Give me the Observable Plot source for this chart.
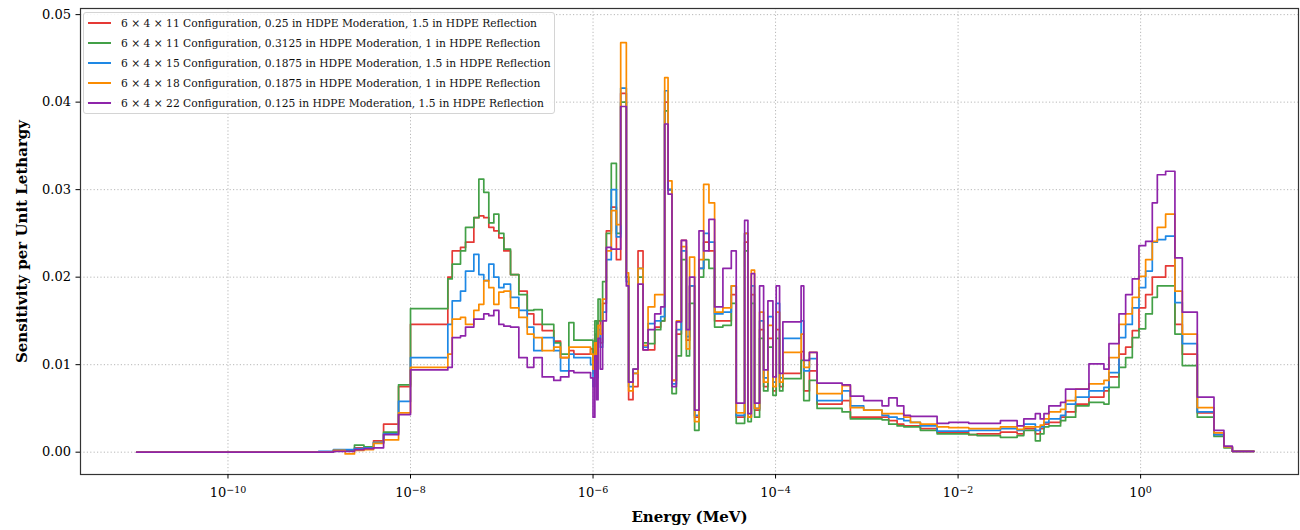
<!DOCTYPE html>
<html><head><meta charset="utf-8">
<script src="https://cdn.jsdelivr.net/npm/d3@7"></script>
<script src="https://cdn.jsdelivr.net/npm/@observablehq/plot@0.6"></script>
<style>
body{margin:0;background:#fff;}
#wrap{position:relative;width:1300px;height:530px;font-family:"DejaVu Serif",serif;}
#legend{position:absolute;left:83px;top:12px;width:472px;height:102px;border:1px solid #d4d4d4;border-radius:3px;background:rgba(255,255,255,0.85);box-sizing:border-box;}
.row{position:absolute;left:4px;height:20px;display:flex;align-items:center;font-size:10.7px;color:#111;white-space:nowrap}
.sw{width:23px;height:0;border-top:2px solid;margin-right:10px}
svg g[aria-label="y-axis label"] text, svg g[aria-label="x-axis label"] text{font-weight:bold;font-size:15px;}
</style></head>
<body>
<div id="wrap"><div id="chart"></div><div id="legend"></div></div>
<script>
// log10 of lower bin edge energy (MeV)
const logE = [
 -11.0, -9.006, -8.844, -8.716, -8.614, -8.51, -8.405, -8.295, -8.131, -8.0,
 -7.591, -7.543, -7.452, -7.397, -7.306, -7.251, -7.197, -7.142, -7.087, -7.032,
 -6.977, -6.904, -6.813, -6.721, -6.649, -6.557, -6.430, -6.356, -6.265, -6.210,
 -6.027, -6.000, -5.980, -5.960, -5.945, -5.920, -5.895, -5.854, -5.800, -5.744,
 -5.697, -5.635, -5.610, -5.562, -5.507, -5.452, -5.397, -5.324, -5.258, -5.215,
 -5.178, -5.135, -5.087, -5.032, -4.977, -4.942, -4.887, -4.839, -4.788, -4.730,
 -4.668, -4.577, -4.485, -4.431, -4.339, -4.303, -4.266, -4.230, -4.175, -4.131,
 -4.084, -4.029, -3.993, -3.956, -3.920, -3.720, -3.691, -3.629, -3.545, -3.271,
 -3.180, -3.034, -2.833, -2.760, -2.668, -2.595, -2.522, -2.413, -2.230, -2.102,
 -1.883, -1.792, -1.536, -1.353, -1.280, -1.153, -1.100, -1.059, -1.005, -0.877,
 -0.822, -0.712, -0.566, -0.402, -0.347, -0.237, -0.164, -0.091, -0.018, 0.055,
 0.128, 0.183, 0.274, 0.376, 0.457, 0.621, 0.804, 0.913, 1.005
];
const logEnd = 1.242;

const seriesNames = [
 "6 × 4 × 11 Configuration, 0.25 in HDPE Moderation, 1.5 in HDPE Reflection",
 "6 × 4 × 11 Configuration, 0.3125 in HDPE Moderation, 1 in HDPE Reflection",
 "6 × 4 × 15 Configuration, 0.1875 in HDPE Moderation, 1.5 in HDPE Reflection",
 "6 × 4 × 18 Configuration, 0.1875 in HDPE Moderation, 1 in HDPE Reflection",
 "6 × 4 × 22 Configuration, 0.125 in HDPE Moderation, 1.5 in HDPE Reflection"
];
const seriesColors = ["#e53935", "#43a047", "#1e88e5", "#fb8c00", "#8e24aa"];

const red = [
 0, 0.00005, .0002, .0002, .0005, .0005, .0013, .0032, .0075, .0146,
 .0200, .0230, .0234, .0240, .0268, .0270, .0268, .0257, .0253, .0245,
 .0230, .0203, .0184, .0158, .0146, .0139, .0127, .0108, .0116, .0112,
 .0118, .0090, .0135, .0100, .0150, .0125, .0170, .0253, .0280, .0220,
 .0410, .0200, .0060, .0075, .0230, .0117, .0117, .0143, .0150, .0400,
 .0300, .0082, .0135, .0242, .0128, .0190, .0040, .0210, .0240, .0230,
 .0150, .0150, .0180, .0040, .0240, .0040, .0180, .0048, .0140, .0075,
 .0130, .0070, .0140, .0075, .0090, .0115, .0070, .0093, .0055, .0059,
 .0040, .0040, .0040, .0036, .0032, .0030, .0030, .0027, .0023, .0022,
 .0020, .0021, .0023, .0021, .0027, .0021, .0027, .0032, .0034, .0040,
 .0046, .0055, .0063, .0070, .0086, .0112, .0120, .0139, .0165, .0180,
 .0200, .0200, .0213, .0146, .0112, .0045, .0020, .0006, .0001
];
const green = [
 0, 0, .0002, .0002, .0008, .0006, .0011, .0023, .0077, .0164,
 .0198, .0215, .0230, .0257, .0268, .0312, .0297, .0262, .0272, .0250,
 .0232, .0203, .0180, .0162, .0163, .0146, .0125, .0112, .0148, .0128,
 .0128, .0105, .0150, .0115, .0175, .0150, .0195, .0250, .0330, .0250,
 .0400, .0200, .0080, .0095, .0200, .0125, .0124, .0140, .0150, .0390,
 .0300, .0067, .0110, .0220, .0110, .0170, .0025, .0200, .0220, .0210,
 .0143, .0145, .0170, .0033, .0230, .0035, .0170, .0040, .0130, .0070,
 .0120, .0065, .0130, .0070, .0084, .0105, .0059, .0082, .0050, .0046,
 .0038, .0038, .0037, .0032, .0030, .0029, .0029, .0025, .0021, .0021,
 .0020, .0019, .0017, .0019, .0025, .0013, .0021, .0029, .0030, .0036,
 .0040, .0053, .0057, .0055, .0074, .0097, .0108, .0131, .0141, .0158,
 .0177, .0190, .0190, .0135, .0099, .0040, .0018, .0005, .0001
];
const blue = [
 0, .0001, .0003, .0003, .0004, .0005, .0011, .0021, .0058, .0108,
 .0146, .0173, .0184, .0207, .0226, .0203, .0196, .0215, .0200, .0188,
 .0192, .0177, .0162, .0143, .0116, .0131, .0116, .0093, .0112, .0108,
 .0100, .0075, .0120, .0085, .0140, .0120, .0160, .0220, .0300, .0246,
 .0416, .0195, .0075, .0090, .0210, .0120, .0147, .0150, .0155, .0413,
 .0300, .0078, .0140, .0230, .0132, .0190, .0042, .0210, .0250, .0240,
 .0158, .0160, .0190, .0042, .0250, .0040, .0190, .0050, .0150, .0085,
 .0155, .0080, .0170, .0085, .0130, .0150, .0093, .0107, .0059, .0070,
 .0053, .0048, .0042, .0040, .0038, .0036, .0034, .0030, .0024, .0024,
 .0025, .0025, .0027, .0025, .0032, .0025, .0029, .0034, .0038, .0042,
 .0055, .0063, .0070, .0074, .0091, .0131, .0146, .0165, .0188, .0207,
 .0240, .0243, .0247, .0171, .0124, .0046, .0020, .0006, .0001
];
const orange = [
 0, 0, .0002, -.0002, .0002, .0003, .0010, .0014, .0045, .0097,
 .0112, .0152, .0154, .0146, .0162, .0169, .0196, .0188, .0169, .0183,
 .0184, .0165, .0154, .0135, .0131, .0116, .0120, .0108, .0120, .0120,
 .0112, .0095, .0125, .0105, .0145, .0135, .0175, .0230, .0276, .0260,
 .0468, .0205, .0070, .0090, .0210, .0122, .0166, .0180, .0180, .0428,
 .0310, .0082, .0150, .0235, .0118, .0223, .0035, .0220, .0306, .0285,
 .0160, .0165, .0190, .0045, .0250, .0040, .0208, .0050, .0160, .0080,
 .0145, .0075, .0160, .0080, .0114, .0135, .0097, .0114, .0067, .0076,
 .0051, .0048, .0044, .0044, .0044, .0040, .0034, .0032, .0029, .0028,
 .0027, .0027, .0029, .0026, .0029, .0029, .0031, .0038, .0046, .0049,
 .0059, .0072, .0078, .0082, .0108, .0146, .0158, .0177, .0201, .0220,
 .0241, .0257, .0272, .0184, .0135, .0051, .0022, .0006, .0001
];
const purple = [
 0, 0, .0001, .0001, .0003, .0004, .0005, .0020, .0043, .0094,
 .0097, .0131, .0133, .0143, .0152, .0152, .0158, .0156, .0162, .0146,
 .0144, .0143, .0108, .0097, .0108, .0086, .0082, .0086, .0093, .0091,
 .0085, .0040, .0110, .0060, .0130, .0095, .0150, .0234, .0232, .0232,
 .0395, .0190, .0080, .0095, .0192, .0117, .0140, .0158, .0166, .0375,
 .0295, .0075, .0149, .0242, .0140, .0200, .0048, .0253, .0230, .0266,
 .0166, .0210, .0230, .0056, .0265, .0044, .0204, .0056, .0190, .0094,
 .0173, .0086, .0190, .0090, .0149, .0190, .0105, .0114, .0079, .0077,
 .0064, .0059, .0053, .0062, .0053, .0042, .0041, .0041, .0033, .0034,
 .0033, .0033, .0036, .0030, .0038, .0044, .0038, .0044, .0053, .0057,
 .0072, .0072, .0101, .0095, .0124, .0158, .0180, .0198, .0236, .0241,
 .0285, .0317, .0321, .0222, .0160, .0063, .0025, .0007, .0001
];
const seriesValues = [red, green, blue, orange, purple];

const xTicks = [1e-10, 1e-8, 1e-6, 1e-4, 1e-2, 1e0];
const yTicks = [0, 0.01, 0.02, 0.03, 0.04, 0.05];

const data = [];
seriesValues.forEach((vals, k) => {
  vals.forEach((v, i) => data.push({E: 10 ** logE[i], v, s: seriesNames[k]}));
  data.push({E: 10 ** logEnd, v: vals[vals.length - 1], s: seriesNames[k]});
});

const gridStyle = {stroke: "#b0b0b0", strokeOpacity: 1, strokeWidth: 0.9, strokeDasharray: "1.2,2.2"};

const chart = Plot.plot({
  width: 1300, height: 530,
  marginTop: 8, marginBottom: 56, marginLeft: 80, marginRight: 2,
  style: {fontFamily: '"DejaVu Serif", serif', fontSize: "13px", color: "#000", background: "#fff"},
  x: {type: "log", domain: [10 ** -11.616, 10 ** 1.73]},
  y: {domain: [-0.00255, 0.0507]},
  color: {domain: seriesNames, range: seriesColors},
  marks: [
    Plot.gridX(xTicks, gridStyle),
    Plot.gridY(yTicks, gridStyle),
    Plot.line(data, {x: "E", y: "v", z: "s", stroke: "s", curve: "step-after", strokeWidth: 1.7}),
    Plot.frame({stroke: "#333", strokeWidth: 1.2}),
    Plot.axisX(xTicks, {tickSize: 4.5, tickPadding: 9, tickFormat: d => "10^" + Math.round(Math.log10(d)),
      label: "Energy (MeV)", labelAnchor: "center", labelArrow: "none", labelOffset: 47}),
    Plot.axisY(yTicks, {tickSize: 4.5, tickPadding: 5, tickFormat: d3.format(".2f"),
      label: "Sensitivity per Unit Lethargy", labelAnchor: "center", labelArrow: "none", labelOffset: 64})
  ]
});
document.getElementById("chart").appendChild(chart);

// superscript exponents on x tick labels
chart.querySelectorAll('g[aria-label="x-axis tick label"] text').forEach(t => {
  const parts = t.textContent.split("^");
  if (parts.length !== 2) return;
  t.textContent = parts[0];
  const sup = document.createElementNS("http://www.w3.org/2000/svg", "tspan");
  sup.setAttribute("dy", "-0.45em");
  sup.setAttribute("font-size", "9.5px");
  sup.textContent = parts[1].replace("-", "\u2212");
  t.appendChild(sup);
});

// legend
const legend = document.getElementById("legend");
seriesNames.forEach((name, k) => {
  const row = document.createElement("div");
  row.className = "row";
  row.style.top = (20 * k) + "px";
  const sw = document.createElement("span");
  sw.className = "sw";
  sw.style.borderTopColor = seriesColors[k];
  row.appendChild(sw);
  const lab = document.createElement("span");
  lab.textContent = name;
  row.appendChild(lab);
  legend.appendChild(row);
});
</script>
</body></html>
